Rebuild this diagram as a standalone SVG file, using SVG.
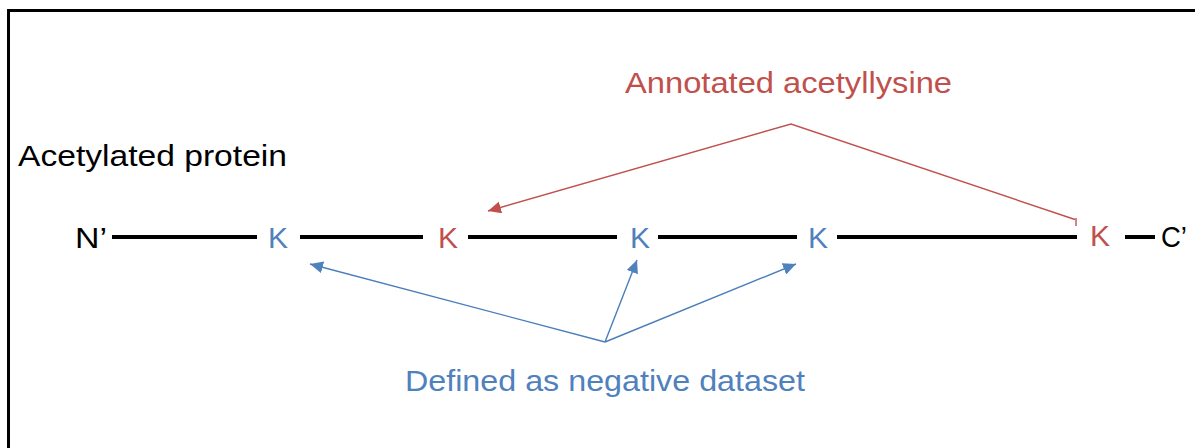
<svg xmlns="http://www.w3.org/2000/svg" width="1195" height="448" viewBox="0 0 1195 448">
  <style>
    text { font-family: "Liberation Sans", Arial, sans-serif; font-size: 30px; }
    .black { fill: #000000; }
    .red { fill: #C0504D; }
    .blue { fill: #4F81BD; }
    .chain { stroke: #000000; stroke-width: 4; fill: none; }
    .redline { stroke: #C0504D; stroke-width: 1.4; fill: none; }
    .blueline { stroke: #4A7EBB; stroke-width: 1.4; fill: none; }
  </style>
  <defs>
    <marker id="arrowRed" markerUnits="userSpaceOnUse" markerWidth="14" markerHeight="12" refX="13" refY="6" orient="auto">
      <path d="M0,0 L13,6 L0,12 Z" fill="#C0504D"/>
    </marker>
    <marker id="arrowBlue" markerUnits="userSpaceOnUse" markerWidth="14" markerHeight="12" refX="13" refY="6" orient="auto">
      <path d="M0,0 L13,6 L0,12 Z" fill="#4F81BD"/>
    </marker>
  </defs>

  <rect x="0" y="0" width="1195" height="448" fill="#ffffff"/>
  <!-- frame: left and top edges -->
  <path d="M8.5,448 V10.5 H1195" stroke="#000000" stroke-width="3" fill="none"/>

  <g id="title">
    <text class="black" x="18" y="166" textLength="269" lengthAdjust="spacingAndGlyphs">Acetylated protein</text>
  </g>

  <!-- protein backbone -->
  <g id="backbone">
    <line class="chain" x1="112" y1="237" x2="257" y2="237"/>
    <line class="chain" x1="300" y1="237" x2="423" y2="237"/>
    <line class="chain" x1="468" y1="237" x2="617" y2="237"/>
    <line class="chain" x1="658" y1="237" x2="797" y2="237"/>
    <line class="chain" x1="837" y1="237" x2="1077" y2="237"/>
    <line class="chain" x1="1125" y1="237" x2="1155" y2="237"/>
  </g>

  <g id="n-term"><text class="black" x="75" y="248" textLength="32" lengthAdjust="spacingAndGlyphs">N’</text></g>
  <g id="k1"><text class="blue" x="278" y="248" text-anchor="middle">K</text></g>
  <g id="k2"><text class="red" x="448" y="248" text-anchor="middle">K</text></g>
  <g id="k3"><text class="blue" x="640" y="248" text-anchor="middle">K</text></g>
  <g id="k4"><text class="blue" x="818" y="248" text-anchor="middle">K</text></g>
  <g id="k5"><text class="red" x="1100" y="246" text-anchor="middle">K</text></g>
  <g id="c-term"><text class="black" x="1161" y="247" textLength="26" lengthAdjust="spacingAndGlyphs">C’</text></g>

  <g id="label-annotated">
    <text class="red" x="625" y="93" textLength="327" lengthAdjust="spacingAndGlyphs">Annotated acetyllysine</text>
  </g>
  <g id="label-negative">
    <text class="blue" x="405" y="391" textLength="400" lengthAdjust="spacingAndGlyphs">Defined as negative dataset</text>
  </g>

  <g id="connectors">
    <path class="redline" d="M1075,219.5 L791,124 L488,211" marker-end="url(#arrowRed)"/>
    <path class="redline" d="M1076,218 V226"/>
    <line class="blueline" x1="605" y1="342" x2="310" y2="264" marker-end="url(#arrowBlue)"/>
    <line class="blueline" x1="605" y1="342" x2="637" y2="260" marker-end="url(#arrowBlue)"/>
    <line class="blueline" x1="605" y1="342" x2="796" y2="264" marker-end="url(#arrowBlue)"/>
  </g>
</svg>
